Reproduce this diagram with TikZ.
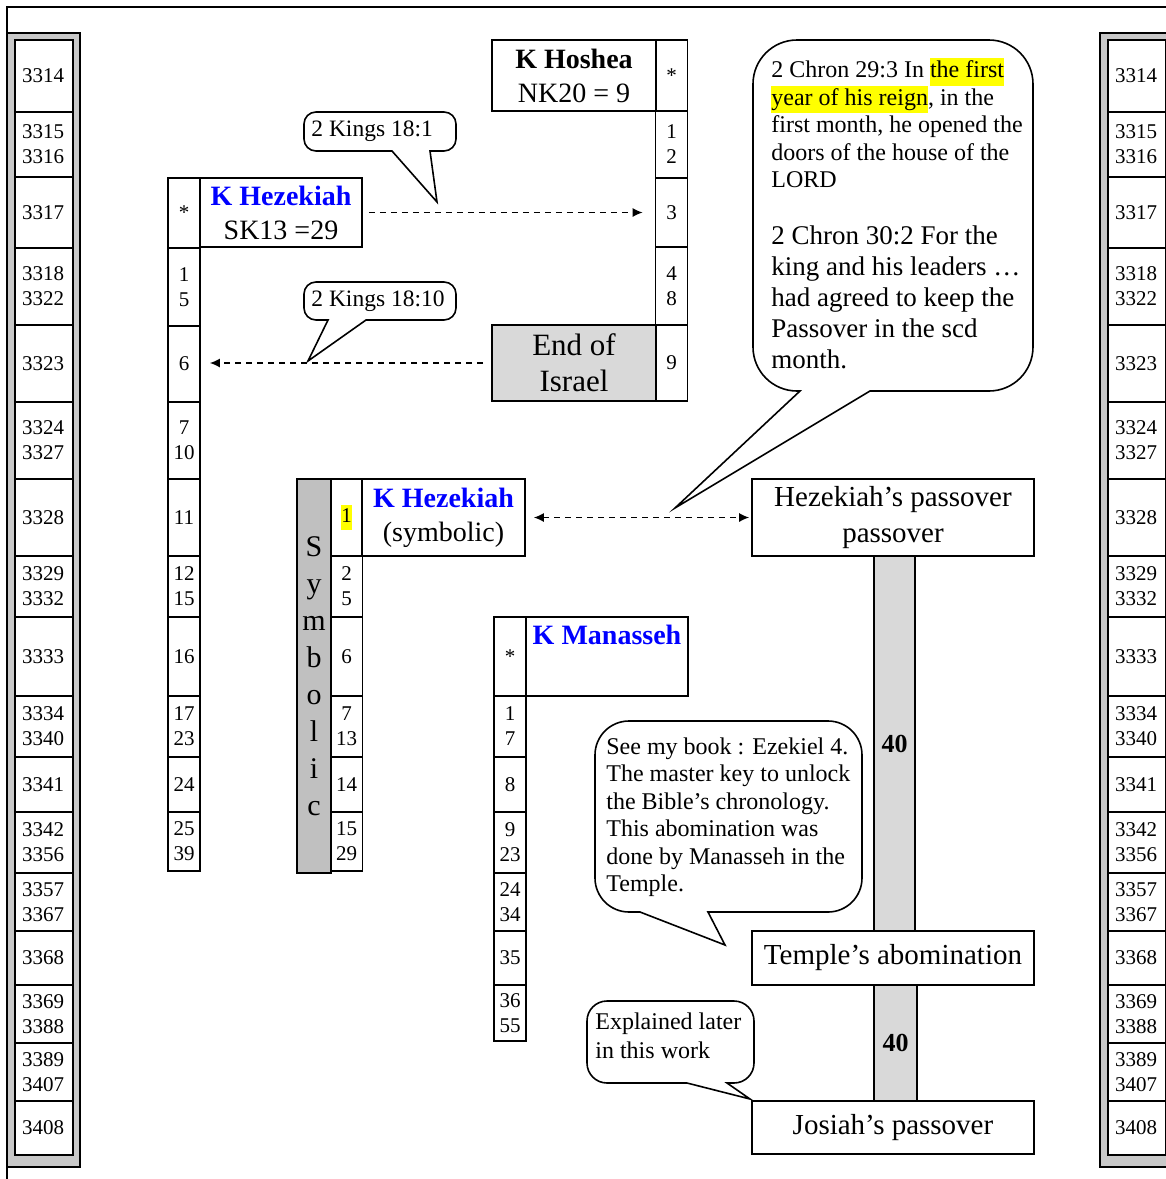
\documentclass[tikz,border=0pt]{standalone}
\usepackage{fontspec}
\setmainfont{Liberation Serif}
\usetikzlibrary{arrows.meta}
\definecolor{kingblue}{HTML}{0000FF}
\definecolor{rimgray}{HTML}{C8C8C8}
\definecolor{boxgray}{HTML}{D9D9D9}
\definecolor{symgray}{HTML}{C0C0C0}
\definecolor{marker}{HTML}{FFFF00}
\newcommand{\hilite}[1]{{\setlength{\fboxsep}{0pt}\colorbox{marker}{\strut #1}}}

\begin{document}
\begin{tikzpicture}[x=0.5pt, y=-0.5pt, >={Latex[length=5pt,width=4.5pt]},
  cell/.style={draw, fill=white, line width=0.8pt, inner sep=0pt, minimum width=16pt,
               align=center, font=\fontsize{10.5}{12.5}\selectfont},
  yrcell/.style={cell, text width=22pt, inner xsep=3.5pt, align=left},
  rim/.style={draw, line width=0.6pt, fill=rimgray},
  king/.style={draw, fill=white, line width=0.8pt, inner sep=0pt, align=center,
               font=\fontsize{14}{17}\selectfont},
  event/.style={draw, fill=white, line width=0.8pt, inner sep=0pt, minimum width=141pt,
                align=center, font=\fontsize{14.5}{18}\selectfont},
  span/.style={draw, line width=0.8pt, fill=boxgray, inner sep=0pt,
               font=\bfseries\fontsize{13}{15}\selectfont},
  link/.style={->, line width=0.75pt, dash pattern=on 3pt off 2.5pt},
  callout/.style={draw, line width=0.8pt, fill=white},
  note/.style={inner sep=0pt, align=left, font=\fontsize{12}{13.75}\selectfont}
]
  \useasboundingbox (0,0) rectangle (1166,1179);
  \clip (0,0) rectangle (1166,1179);

  % page frame
  \draw[line width=0.9pt] (7,1179) -- (7,7) -- (1166,7);

  % year scales, left and right
  \draw[rim] (7,33) rectangle (80,1167);
  \draw[rim] (1100,33) rectangle (1173,1167);
  \foreach \ya/\yb/\lab in {40/112/3314, 112/177/{3315\\3316}, 177/248/3317,
      248/325/{3318\\3322}, 325/402/3323, 402/479/{3324\\3327}, 479/556/3328,
      556/617/{3329\\3332}, 617/696/3333, 696/757/{3334\\3340}, 757/812/3341,
      812/873/{3342\\3356}, 873/931/{3357\\3367}, 931/985/3368,
      985/1043/{3369\\3388}, 1043/1101/{3389\\3407}, 1101/1155/3408}{
    \pgfmathsetmacro\hh{(\yb-\ya)/2}
    \node[yrcell, minimum height=\hh pt] (yl\ya) at (44,{(\ya+\yb)/2}) {\lab};
    \node[yrcell, minimum height=\hh pt] (yr\ya) at (1137,{(\ya+\yb)/2}) {\lab};
  }

  % reign columns
  \foreach \ya/\yb/\lab in {178/248/*, 248/326/{1\\5}, 326/402/6, 402/479/{7\\10},
      479/556/11, 556/617/{12\\15}, 617/696/16, 696/757/{17\\23}, 757/812/24,
      812/871/{25\\39}}{
    \pgfmathsetmacro\hh{(\yb-\ya)/2}
    \node[cell, minimum height=\hh pt] (z\ya) at (184,{(\ya+\yb)/2}) {\lab};
  }
  \foreach \ya/\yb/\lab in {40/111/*, 111/178/{1\\2}, 178/247/3, 247/325/{4\\8}, 325/401/9}{
    \pgfmathsetmacro\hh{(\yb-\ya)/2}
    \node[cell, minimum height=\hh pt] (o\ya) at (671.5,{(\ya+\yb)/2}) {\lab};
  }
  \foreach \ya/\yb/\lab in {479/556/{\hilite{1}}, 556/617/{2\\5}, 617/696/6,
      696/757/{7\\13}, 757/812/14, 812/871/{15\\29}}{
    \pgfmathsetmacro\hh{(\yb-\ya)/2}
    \node[cell, minimum height=\hh pt] (s\ya) at (346.5,{(\ya+\yb)/2}) {\lab};
  }
  \foreach \ya/\yb/\lab in {617/696/*, 696/757/{1\\7}, 757/812/8, 812/873/{9\\23},
      873/931/{24\\34}, 931/985/35, 985/1041/{36\\55}}{
    \pgfmathsetmacro\hh{(\yb-\ya)/2}
    \node[cell, minimum height=\hh pt] (m\ya) at (510,{(\ya+\yb)/2}) {\lab};
  }

  % kings
  \node[king, minimum width=82pt, minimum height=35.5pt] (hosK) at (574,75.5)
       {\textbf{K Hoshea}\\NK20 = 9};
  \node[king, fill=boxgray, minimum width=82pt, minimum height=38pt,
        font=\fontsize{15.5}{18}\selectfont] (endIsr) at (574,363) {End of\\Israel};
  \node[king, minimum width=81pt, minimum height=34.5pt] (hezK) at (281,212.5)
       {\textcolor{kingblue}{\textbf{K Hezekiah}}\\SK13 =29};
  \node[king, minimum width=81.5pt, minimum height=38.5pt] (hezSym) at (443.5,517.5)
       {\textcolor{kingblue}{\textbf{K Hezekiah}}\\(symbolic)};
  \node[king, minimum width=81pt, minimum height=39.5pt] (manK) at (607,656.5) {};
  \node[inner sep=0pt, text=kingblue, font=\bfseries\fontsize{14}{17}\selectfont]
       (manName) at (607,635) {K Manasseh};
  \node[draw, line width=0.8pt, fill=symgray, inner sep=0pt, minimum width=17pt,
        minimum height=197pt, align=center, font=\fontsize{15}{18.5}\selectfont]
       (symBar) at (314,676) {S\\y\\m\\b\\o\\l\\i\\c};

  % passovers
  \node[span, minimum width=20.5pt, minimum height=187.5pt] (span1) at (894.5,743.5) {40};
  \node[span, minimum width=21.5pt, minimum height=58pt] (span2) at (895.5,1043) {40};
  \node[event, minimum height=38.5pt] (hezPass) at (893,517.5) {Hezekiah’s passover\\passover};
  \node[event, minimum height=27pt] (temAbom) at (893,958) {Temple’s abomination};
  \node[event, minimum height=26.5pt] (josPass) at (893,1127.5) {Josiah’s passover};

  % links
  \draw[link, shorten <=3pt, shorten >=6pt] (hezK.east) -- (hezK.east -| o178.west);
  \draw[link, shorten <=4pt, shorten >=4.5pt] (endIsr.west) -- (endIsr.west -| z326.east);
  \draw[link, <->, shorten <=4pt, shorten >=1pt] (hezSym.east) -- (hezPass.west);

  % callouts
  \coordinate (tipA) at (437,202);
  \coordinate (tipB) at (308,361);
  \coordinate (tipC) at (675,508);
  \coordinate (tipD) at (725,945);
  \coordinate (tipE) at (750,1099);
  \foreach \xa/\xb/\ya/\yb/\la/\ra/\tip/\rr in {304/456/112/151/392/430/tipA/6,
      304/456/282/320/328/366/tipB/6, 753/1033/40/391/800/870/tipC/22,
      595/862/721/912/640/708/tipD/17, 587/754/1001/1083/687/727/tipE/10}
    \draw[callout] (\ra,\yb) [rounded corners=\rr pt] -- (\xb,\yb) -- (\xb,\ya)
      -- (\xa,\ya) -- (\xa,\yb) [sharp corners] -- (\la,\yb) -- (\tip) -- cycle;

  \node[note, anchor=west, font=\fontsize{11.75}{14}\selectfont] (kingsA) at (311,131) {2 Kings 18:1};
  \node[note, anchor=west, font=\fontsize{11.75}{14}\selectfont] (kingsB) at (311,301) {2 Kings 18:10};
  \node[note, anchor=north west] (chronA) at (771,58)
       {2 Chron 29:3 In \hilite{the first}\\\hilite{year of his reign}, in the\\first month, he opened the\\doors of the house of the\\LORD};
  \node[note, anchor=north west, font=\fontsize{13.5}{15.5}\selectfont] (chronB) at (771,225)
       {2 Chron 30:2 For the\\king and his leaders …\\had agreed to keep the\\Passover in the scd\\month.};
  \node[note, anchor=north west] (bookTxt) at (606,737)
       {See my book : Ezekiel 4.\\The master key to unlock\\the Bible’s chronology.\\This abomination was\\done by Manasseh in the\\Temple.};
  \node[note, anchor=north west, font=\fontsize{12}{14.5}\selectfont] (laterTxt) at (595,1012)
       {Explained later\\in this work};
\end{tikzpicture}
\end{document}
